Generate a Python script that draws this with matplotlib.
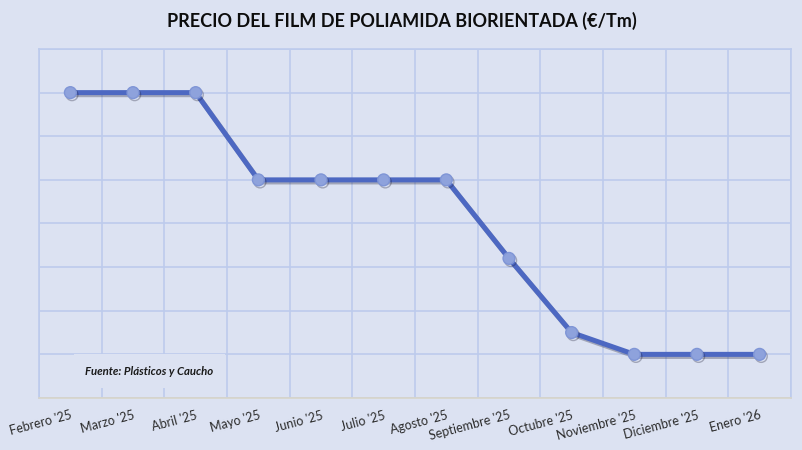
import matplotlib
matplotlib.use("Agg")
import matplotlib.pyplot as plt
import matplotlib.patheffects as pe
import numpy as np

# Data (index units - the y axis has no labels)
months = ["Febrero '25", "Marzo '25", "Abril '25", "Mayo '25", "Junio '25", "Julio '25",
          "Agosto '25", "Septiembre '25", "Octubre '25", "Noviembre '25", "Diciembre '25", "Enero '26"]
price = [7.0, 7.0, 7.0, 5.0, 5.0, 5.0, 5.0, 3.2, 1.5, 1.0, 1.0, 1.0]

bg = "#DCE2F2"
grid_col = "#BDCBEC"
line_col = "#4D68C2"
marker_col = "#8EA2DC"

plt.rcParams['font.family'] = ['Lato', 'DejaVu Sans']

fig = plt.figure(figsize=(8.03, 4.5), dpi=100, facecolor=bg)
ax = fig.add_axes([0.0486, 0.1156, 0.9364, 0.7755])
ax.set_facecolor(bg)

x = np.arange(len(months))
ax.plot(x, price, color=line_col, lw=3.6, marker="o", ms=8.5,
        mfc=marker_col, mec="#7F95D6", mew=1.0, zorder=5,
        path_effects=[pe.SimpleLineShadow(offset=(1.2, -1.5), alpha=0.3, shadow_color="#1a1a33"),
                      pe.Normal()])

ax.set_xlim(-0.5, len(months) - 0.5)
ax.set_ylim(0, 8)
ax.set_xticks(x)
ax.set_xticklabels(months, rotation=15, ha="right", rotation_mode="anchor",
                   fontsize=9, color="#2b2b2b")
ax.set_xticks(np.arange(-0.5, len(months), 1), minor=True)
ax.set_yticks(np.arange(0, 9, 1))
ax.set_yticklabels([])
ax.tick_params(axis="both", which="both", length=0)
ax.tick_params(axis="x", which="major", pad=8)
ax.grid(True, which="minor", axis="x", color=grid_col, lw=1.2)
ax.grid(True, which="major", axis="y", color=grid_col, lw=1.2)
ax.set_axisbelow(True)
for side in ["top", "left", "right"]:
    ax.spines[side].set_color(grid_col)
    ax.spines[side].set_linewidth(1.2)
ax.spines["bottom"].set_color("#D8D5C8")
ax.spines["bottom"].set_linewidth(1.2)

ax.text(0.061, 0.077, "Fuente: Plásticos y Caucho", transform=ax.transAxes,
        fontsize=8.2, fontweight="bold", fontstyle="italic", color="#1a1a1a",
        va="center", ha="left", zorder=4,
        bbox=dict(boxstyle="square,pad=1.0", fc=bg, ec="none"))

fig.text(0.5, 0.953, "PRECIO DEL FILM DE POLIAMIDA BIORIENTADA (€/Tm)",
         ha="center", va="center", fontsize=13, fontweight="bold", color="#0d0d0d")

fig.savefig("out.png", dpi=100, facecolor=bg)
